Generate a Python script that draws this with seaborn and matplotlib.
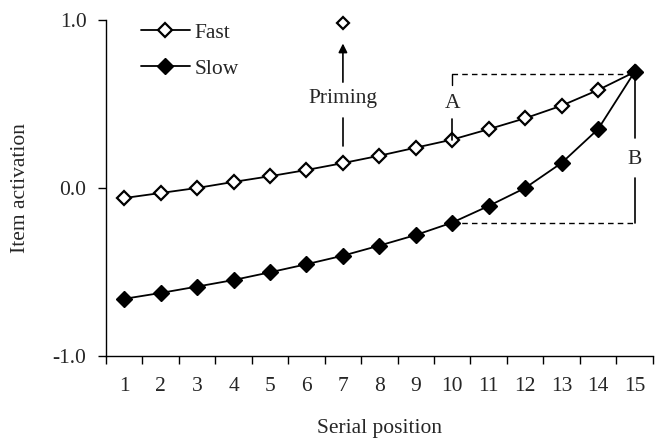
import numpy as np
import pandas as pd
import seaborn as sns
import matplotlib.pyplot as plt

# donnees
positions = list(range(1, 16))
fast = [-0.06, -0.03, 0.00, 0.036, 0.07, 0.107, 0.148, 0.192, 0.24,
        0.288, 0.35, 0.415, 0.49, 0.583, 0.69]
slow = [-0.66, -0.625, -0.587, -0.548, -0.502, -0.454, -0.403, -0.343, -0.28,
        -0.206, -0.107, 0.0, 0.149, 0.35, 0.69]
priming_pos = 7
priming_val = 0.98
tick_labels = [str(p) for p in positions]

df = pd.DataFrame({"pos": positions, "Fast": fast, "Slow": slow})

FS = 15.5
sns.set_style("white")
plt.rcParams['font.family'] = ['Liberation Serif', 'DejaVu Serif']
plt.rcParams['font.size'] = FS

fig = plt.figure(figsize=(6.6, 4.4), dpi=100)
ax = fig.add_axes([0.1606, 0.191, 0.8284, 0.7636])

sns.lineplot(data=df, x="pos", y="Fast", ax=ax, color="black", lw=1.3,
             marker="D", markersize=7.5, markerfacecolor="white",
             markeredgecolor="black", markeredgewidth=1.6, label="Fast")
sns.lineplot(data=df, x="pos", y="Slow", ax=ax, color="black", lw=1.3,
             marker="D", markersize=8.5, markerfacecolor="black",
             markeredgecolor="black", markeredgewidth=1.0, label="Slow")

# point amorce
ax.plot([priming_pos], [priming_val], marker="D", markersize=6.5,
        markerfacecolor="white", markeredgecolor="black", markeredgewidth=1.6,
        ls="none", clip_on=False)
ax.plot([priming_pos, priming_pos], [fast[6] + 0.1, fast[6] + 0.27], color="black", lw=1.2)
ax.text(priming_pos, 0.53, "Priming", ha="center", va="center", fontsize=FS)
ax.annotate("", xy=(priming_pos, 0.86), xytext=(priming_pos, 0.63),
            arrowprops=dict(arrowstyle="-|>", color="black", lw=1.2,
                            mutation_scale=13, shrinkA=0, shrinkB=0))

# A : ecart en haut
top = fast[-1] - 0.01
ax.plot([10, 15], [top, top], ls=(0, (4, 3)), color="black", lw=1.0)
ax.plot([10, 10], [top, 0.61], color="black", lw=1.0)
ax.text(10, 0.5, "A", ha="center", va="center", fontsize=FS)
ax.plot([10, 10], [0.41, fast[9]], color="black", lw=1.2)

# B : ecart a droite
bot = slow[9]
ax.plot([10, 15], [bot, bot], ls=(0, (4, 3)), color="black", lw=1.0)
ax.plot([15, 15], [fast[-1], 0.3], color="black", lw=1.2)
ax.text(15, 0.17, "B", ha="center", va="center", fontsize=FS)
ax.plot([15, 15], [0.06, bot], color="black", lw=1.2)

ax.set_xlim(0.5, 15.5)
ax.set_ylim(-1.0, 1.0)
ax.set_xticks(np.arange(0.5, 16, 1))
ax.set_xticklabels([])
ax.set_xticks(positions, minor=True)
ax.set_xticklabels(tick_labels, minor=True)
ax.tick_params(axis="x", which="major", direction="out", length=6, width=1, color="black")
ax.tick_params(axis="x", which="minor", length=0, pad=15, labelsize=FS)
ax.set_yticks([-1.0, 0.0, 1.0])
ax.set_yticklabels(["-1.0", "0.0", "1.0"])
ax.tick_params(axis="y", direction="out", length=6, width=1, pad=8, labelsize=FS, color="black")
ax.tick_params(left=True, bottom=True, which="major")

sns.despine(ax=ax)
for s in ["left", "bottom"]:
    ax.spines[s].set_color("black")
    ax.spines[s].set_linewidth(1.0)

ax.set_xlabel("Serial position", fontsize=FS, labelpad=17)
ax.set_ylabel("Item activation", fontsize=FS, labelpad=16)

ax.legend(loc="upper left", bbox_to_anchor=(0.028, 1.05), frameon=False,
          handlelength=2.3, labelspacing=0.75, fontsize=FS, handletextpad=0.2)

fig.savefig("out.png", dpi=100)
